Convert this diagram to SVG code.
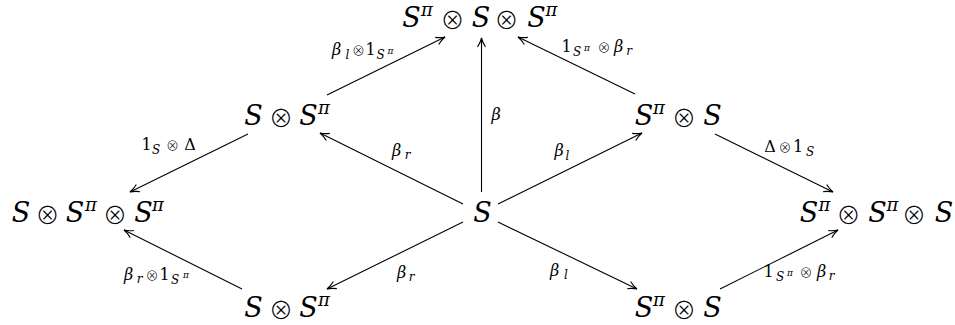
<svg xmlns="http://www.w3.org/2000/svg" width="955" height="325" viewBox="0 0 955 325">
<defs>
<style>
text{fill:#000;text-anchor:middle;font-family:"DejaVu Serif",serif}
.n{font-size:27px;font-style:italic}
.p{font-size:18px;font-style:italic}
.o{font-family:"Noto Sans CJK JP",sans-serif;font-size:24px;font-style:normal;font-weight:300}
.l{font-size:16px;font-style:italic}
.s{font-size:12px;font-style:italic}
.ss{font-size:9px;font-style:italic}
.lo{font-family:"Noto Sans CJK JP",sans-serif;font-size:13px;font-style:normal;font-weight:300}
.up{font-style:normal}
.e{stroke:#000;stroke-width:1.1;fill:none;marker-end:url(#ah)}
</style>
<marker id="ah" markerUnits="userSpaceOnUse" markerWidth="14" markerHeight="12" viewBox="-11 -6 14 12" refX="0" refY="0" orient="auto">
<path d="M-9,-4 C-6,-2 -2.5,-0.6 0,0 C-2.5,0.6 -6,2 -9,4" stroke="#000" stroke-width="1.1" fill="none"/>
</marker>
</defs>
<rect width="955" height="325" fill="#fff"/>

<g id="connectors">
<line class="e" x1="327" y1="95" x2="445" y2="37"/>
<line class="e" x1="481.5" y1="192" x2="481.5" y2="38"/>
<line class="e" x1="635" y1="94" x2="518" y2="37"/>
<line class="e" x1="248" y1="134" x2="130" y2="192"/>
<line class="e" x1="463" y1="204" x2="320" y2="133"/>
<line class="e" x1="498" y1="204" x2="642" y2="133"/>
<line class="e" x1="715" y1="134" x2="833" y2="192"/>
<line class="e" x1="463" y1="222" x2="327" y2="289"/>
<line class="e" x1="498" y1="222" x2="637" y2="289"/>
<line class="e" x1="242" y1="289" x2="124" y2="230"/>
<line class="e" x1="720" y1="289" x2="838" y2="230"/>
</g>

<g id="labels">
<text><tspan class="l" x="336.5" y="55">β</tspan><tspan class="s" x="347.5" y="58.5">l</tspan><tspan class="lo" x="358.5" y="55">⊗</tspan><tspan class="l up" x="370.5" y="55">1</tspan><tspan class="s" x="380.5" y="59">S</tspan><tspan class="ss" x="390.5" y="53.5">π</tspan></text>
<text><tspan class="l up" x="146.5" y="150">1</tspan><tspan class="s" x="156" y="154">S</tspan><tspan class="lo" x="172.5" y="150">⊗</tspan><tspan class="l up" x="190" y="150">Δ</tspan></text>
<text><tspan class="l" x="396.5" y="156">β</tspan><tspan class="s" x="407.5" y="159">r</tspan></text>
<text><tspan class="l" x="496" y="119.5">β</tspan></text>
<text><tspan class="l up" x="566.5" y="52">1</tspan><tspan class="s" x="577" y="56">S</tspan><tspan class="ss" x="587" y="50.5">π</tspan><tspan class="lo" x="604" y="52">⊗</tspan><tspan class="l" x="618.5" y="52">β</tspan><tspan class="s" x="629" y="55">r</tspan></text>
<text><tspan class="l" x="559" y="156">β</tspan><tspan class="s" x="567.5" y="159.5">l</tspan></text>
<text><tspan class="l up" x="770" y="152">Δ</tspan><tspan class="lo" x="785" y="152">⊗</tspan><tspan class="l up" x="798" y="152">1</tspan><tspan class="s" x="810" y="156">S</tspan></text>
<text><tspan class="l" x="128.5" y="279.5">β</tspan><tspan class="s" x="139.5" y="282.5">r</tspan><tspan class="lo" x="152" y="279.5">⊗</tspan><tspan class="l up" x="164.5" y="279.5">1</tspan><tspan class="s" x="175" y="283.5">S</tspan><tspan class="ss" x="186" y="278">π</tspan></text>
<text><tspan class="l" x="401.5" y="277.5">β</tspan><tspan class="s" x="411.5" y="280.5">r</tspan></text>
<text><tspan class="l" x="554.5" y="275.5">β</tspan><tspan class="s" x="566" y="279">l</tspan></text>
<text><tspan class="l up" x="768.5" y="277">1</tspan><tspan class="s" x="780" y="281">S</tspan><tspan class="ss" x="790" y="275.5">π</tspan><tspan class="lo" x="806" y="277">⊗</tspan><tspan class="l" x="821.5" y="277">β</tspan><tspan class="s" x="831.5" y="280">r</tspan></text>
</g>

<g id="nodes">
<g id="top">
<text class="n"><tspan x="411.5" y="27">S</tspan><tspan class="p" x="427" y="16">π</tspan><tspan class="o" x="452.5" y="29">⊗</tspan><tspan x="481" y="27">S</tspan><tspan class="o" x="506.5" y="29">⊗</tspan><tspan x="536.5" y="27">S</tspan><tspan class="p" x="551.5" y="16">π</tspan></text>
</g>
<g id="midLeft">
<text class="n"><tspan x="253.5" y="125">S</tspan><tspan class="o" x="281" y="127">⊗</tspan><tspan x="308.5" y="125">S</tspan><tspan class="p" x="324" y="114">π</tspan></text>
</g>
<g id="midRight">
<text class="n"><tspan x="644" y="125">S</tspan><tspan class="p" x="659" y="114">π</tspan><tspan class="o" x="684" y="127">⊗</tspan><tspan x="712.5" y="125">S</tspan></text>
</g>
<g id="left">
<text class="n"><tspan x="21" y="222">S</tspan><tspan class="o" x="47.5" y="224">⊗</tspan><tspan x="75" y="222">S</tspan><tspan class="p" x="91" y="211">π</tspan><tspan class="o" x="115" y="224">⊗</tspan><tspan x="143.5" y="222">S</tspan><tspan class="p" x="158" y="211">π</tspan></text>
</g>
<g id="center">
<text class="n"><tspan x="482.5" y="222">S</tspan></text>
</g>
<g id="right">
<text class="n"><tspan x="809" y="222">S</tspan><tspan class="p" x="824.5" y="211">π</tspan><tspan class="o" x="848.5" y="224">⊗</tspan><tspan x="877.5" y="222">S</tspan><tspan class="p" x="892.5" y="211">π</tspan><tspan class="o" x="914" y="224">⊗</tspan><tspan x="944" y="222">S</tspan></text>
</g>
<g id="bottomLeft">
<text class="n"><tspan x="253.5" y="317">S</tspan><tspan class="o" x="281" y="319">⊗</tspan><tspan x="308.5" y="317">S</tspan><tspan class="p" x="324" y="306">π</tspan></text>
</g>
<g id="bottomRight">
<text class="n"><tspan x="644" y="317">S</tspan><tspan class="p" x="659" y="306">π</tspan><tspan class="o" x="684" y="319">⊗</tspan><tspan x="712.5" y="317">S</tspan></text>
</g>
</g>
</svg>
